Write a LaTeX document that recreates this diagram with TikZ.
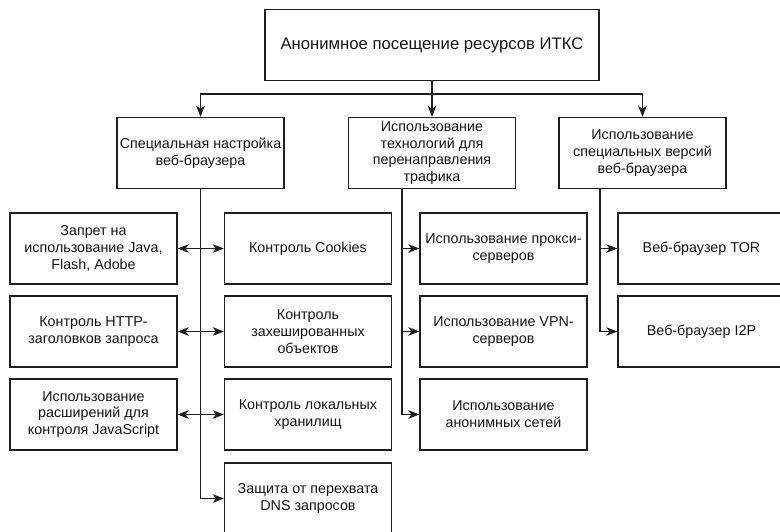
\documentclass[tikz,border=0pt]{standalone}
\usepackage{fontspec}
\setmainfont{Liberation Sans}
\usetikzlibrary{arrows.meta}
\definecolor{linecol}{RGB}{30,30,30}
\definecolor{textcol}{RGB}{20,20,20}
\tikzset{
  box/.style={draw=linecol, line width=1.3pt, fill=white, inner sep=0pt,
    minimum width=167pt, minimum height=71pt, align=center, text=textcol,
    font=\fontsize{14.3}{16.8}\selectfont},
  topbox/.style={box, minimum width=334pt, font=\fontsize{16.7}{19}\selectfont},
  arr/.style={draw=linecol, line width=1.3pt, -{Stealth[length=11pt,width=8.5pt,inset=3pt]}},
  biarr/.style={draw=linecol, line width=1.3pt, {Stealth[length=11pt,width=8.5pt,inset=3pt]}-{Stealth[length=11pt,width=8.5pt,inset=3pt]}}
}
\begin{document}
\begin{tikzpicture}[x=1pt,y=-1pt]
\useasboundingbox (0,0) rectangle (780,531);
% top
\node[topbox] (top) at (432,45) {Анонимное посещение ресурсов ИТКС};
% level 2
\node[box] (A) at (200.5,153) {Специальная настройка\\веб-браузера};
\node[box] (B) at (432,153) {Использование\\технологий для\\перенаправления\\трафика};
\node[box] (C) at (642.5,153) {Использование\\специальных версий\\веб-браузера};
% level 3 left
\node[box] (L1) at (93.5,248.5) {Запрет на\\использование Java,\\Flash, Adobe};
\node[box] (L2) at (93.5,331.5) {Контроль HTTP-\\заголовков запроса};
\node[box] (L3) at (93.5,414.5) {Использование\\расширений для\\контроля JavaScript};
\node[box] (M1) at (308,248.5) {Контроль Cookies};
\node[box] (M2) at (308,331.5) {Контроль\\захешированных\\объектов};
\node[box] (M3) at (308,414.5) {Контроль локальных\\хранилищ};
\node[box] (M4) at (308,498.5) {Защита от перехвата\\DNS запросов};
% B children
\node[box] (B1) at (503.5,248.5) {Использование прокси-\\серверов};
\node[box] (B2) at (503.5,331.5) {Использование VPN-\\серверов};
\node[box] (B3) at (503.5,414.5) {Использование\\анонимных сетей};
% C children
\node[box] (C1) at (701.5,248.5) {Веб-браузер TOR};
\node[box] (C2) at (701.5,331.5) {Веб-браузер I2P};
% connectors from top
\coordinate (hj) at (432,94);
\draw[arr] (top.south) -- (B.north);
\draw[arr] (top.south) |- (hj) -| (A.north);
\draw[arr] (top.south) |- (hj) -| (C.north);
% A branch
\draw[arr] (A.south) |- (M4.west);
\draw[biarr] (L1.east) -- (M1.west);
\draw[biarr] (L2.east) -- (M2.west);
\draw[biarr] (L3.east) -- (M3.west);
% B branch
\coordinate (bs) at ([xshift=54pt]B.south west);
\draw[arr] (bs) |- (B1.west);
\draw[arr] (bs) |- (B2.west);
\draw[arr] (bs) |- (B3.west);
% C branch
\coordinate (cs) at ([xshift=41.5pt]C.south west);
\draw[arr] (cs) |- (C1.west);
\draw[arr] (cs) |- (C2.west);
\end{tikzpicture}
\end{document}
